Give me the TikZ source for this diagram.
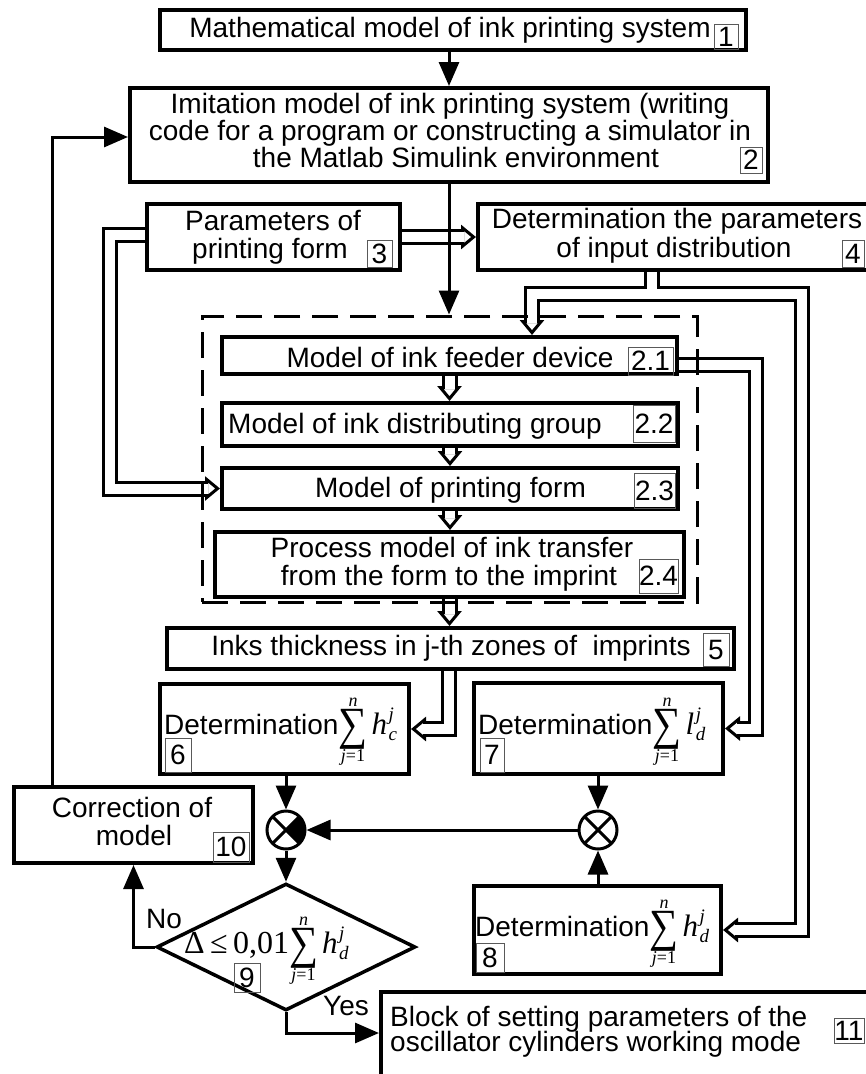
\documentclass[tikz,border=0pt]{standalone}
\usepackage{graphicx}
\usepackage{fontspec}
\setmainfont{Liberation Sans}
\newfontfamily\tim{Liberation Serif}
\usetikzlibrary{arrows.meta,shapes.geometric,backgrounds,calc}

\newcommand\mysum[2]{\mathop{\raisebox{-5.5pt}[26pt][14pt]{\resizebox*{29pt}{40pt}{\tim ∑}}}\limits^{\hbox{\tim\itshape\fontsize{18}{18}\selectfont #1}}_{\hbox{\tim\fontsize{18}{18}\selectfont #2}}}
\newcommand\hv[3]{{\hbox{\tim\itshape\fontsize{31}{31}\selectfont #1\kern1.5pt}}^{\hbox{\tim\itshape\fontsize{19}{19}\selectfont #2}}_{\hbox{\tim\itshape\fontsize{19}{19}\selectfont #3}}}
\newcommand\jone{{\itshape j}=1}

\tikzset{
  box/.style={draw, line width=4pt, fill=white, inner sep=0pt},
  dashbox/.style={draw, line width=3pt, dash pattern=on 26pt off 12pt, inner sep=0pt},
  txt/.style={anchor=base, inner sep=0pt},
  txtw/.style={anchor=base west, inner sep=0pt},
  numb/.style={draw=black!65, line width=1pt, inner sep=0pt},
  arr/.style={line width=3pt, -{Triangle[length=24pt,width=20pt]}},
  dbo/.style={line width=16pt, draw=black, line join=miter, line cap=butt},
  dbi/.style={line width=10pt, draw=white, line join=miter, line cap=butt},
  dbh/.style={line width=3pt, -{Triangle[open,length=15pt,width=24pt]}},
  junc/.style={circle, draw, line width=3pt, minimum size=38pt, inner sep=0pt, fill=white}
}
\newcommand\hollow[3]{%
  \draw[dbo, shorten >=14pt] #1 -- #3;
  \draw[dbh] #2 -- #3;
  \draw[dbi, shorten >=12pt] #1 -- #3;
}

\begin{document}
\begin{tikzpicture}[x=1pt,y=-1pt, every node/.append style={font=\fontsize{28}{28}\selectfont}]
\useasboundingbox (0,0) rectangle (866,1074);

% ---- boxes ----
\node[box, minimum width=586pt, minimum height=40pt] (b1) at (453,30) {};
\node[txt] (t1) at (450,37) {Mathematical model of ink printing system};
\node[numb, minimum width=24pt, minimum height=25pt] (n1) at (726,36.5) {1};

\node[box, minimum width=638pt, minimum height=94pt] (b2) at (449,135) {};
\node[txt] (t2a) at (450,113) {Imitation model of ink printing system (writing};
\node[txt] (t2b) at (450,140) {code for a program or constructing a simulator in};
\node[txt] (t2c) at (456,167) {the Matlab Simulink environment};
\node[numb, minimum width=22pt, minimum height=26pt] (n2) at (751,160) {2};

\node[box, minimum width=253pt, minimum height=66pt] (b3) at (273.5,237) {};
\node[txt] (t3a) at (273,230) {Parameters of};
\node[txt] (t3b) at (270,258) {printing form};
\node[numb, minimum width=25pt, minimum height=27pt] (n3) at (379.5,253.5) {3};

\node[box, minimum width=402pt, minimum height=66pt] (b4) at (679,237) {};
\node[txt] (t4a) at (677,228) {Determination the parameters};
\node[txt] (t4b) at (674,257) {of input distribution};
\node[numb, minimum width=22pt, minimum height=27pt] (n4) at (853,253.5) {4};

\node[dashbox, minimum width=495pt, minimum height=286pt] (dsh) at (449.5,459) {};

\node[box, minimum width=455pt, minimum height=37pt] (b21) at (449.5,355.5) {};
\node[txt] (t21) at (450,367) {Model of ink feeder device};
\node[numb, minimum width=45pt, minimum height=28pt] (n21) at (650.5,361) {2.1};

\node[box, minimum width=456pt, minimum height=43pt] (b22) at (450,424.5) {};
\node[txt] (t22) at (415,433) {Model of ink distributing group};
\node[numb, minimum width=42pt, minimum height=37pt] (n22) at (654,423.5) {2.2};

\node[box, minimum width=456pt, minimum height=41pt] (b23) at (450,488.5) {};
\node[txt] (t23) at (450.5,497) {Model of printing form};
\node[numb, minimum width=41pt, minimum height=35pt] (n23) at (654.5,490.5) {2.3};

\node[box, minimum width=469pt, minimum height=65pt] (b24) at (449.5,564.5) {};
\node[txt] (t24a) at (452,557) {Process model of ink transfer};
\node[txt] (t24b) at (449,585) {from the form to the imprint};
\node[numb, minimum width=39pt, minimum height=34pt] (n24) at (658.5,576) {2.4};

\node[box, minimum width=567pt, minimum height=41pt] (b5) at (450.5,648.5) {};
\node[txt] (t5) at (451,655) {Inks thickness in j-th zones of~ imprints};
\node[numb, minimum width=26pt, minimum height=33pt] (n5) at (716,649.5) {5};

\node[box, minimum width=249pt, minimum height=90pt] (b6) at (284.5,729) {};
\node[txtw] (t6) at (164,734) {Determination$\mysum{n}{\jone}\hv{h}{j}{c}$};
\node[numb, minimum width=26pt, minimum height=34pt] (n6) at (178,755) {6};

\node[box, minimum width=249pt, minimum height=91pt] (b7) at (598.5,728.5) {};
\node[txtw] (t7) at (478,734) {Determination$\mysum{n}{\jone}\hv{l}{j}{d}$};
\node[numb, minimum width=24pt, minimum height=34pt] (n7) at (492,755) {7};

\node[box, minimum width=247pt, minimum height=88pt] (b8) at (597.5,930) {};
\node[txtw] (t8) at (475,936) {Determination$\mysum{n}{\jone}\hv{h}{j}{d}$};
\node[numb, minimum width=28pt, minimum height=29pt] (n8) at (490,957.5) {8};

\node[box, minimum width=239pt, minimum height=76pt] (b10) at (133.5,825) {};
\node[txt] (t10a) at (132,817) {Correction of};
\node[txt] (t10b) at (134,845) {model};
\node[numb, minimum width=36pt, minimum height=30pt] (n10) at (231,847) {10};

\node[diamond, draw, line width=3.5pt, fill=white, minimum width=259pt, minimum height=127pt, inner sep=0pt] (d9) at (286,947) {};
\node[txtw] (t9) at (184,953) {\tim\fontsize{32}{32}\selectfont Δ\,≤\,0,01$\mysum{n}{\jone}\hv{h}{j}{d}$};
\node[numb, minimum width=26pt, minimum height=29pt] (n9) at (247,977.5) {9};

\node[box, minimum width=499pt, minimum height=98pt] (b11) at (630.5,1041) {};
\node[txtw] (t11a) at (390,1026) {Block of setting parameters of the};
\node[txtw] (t11b) at (390,1051) {oscillator cylinders working mode};
\node[numb, minimum width=30pt, minimum height=25pt] (n11) at (849,1030.5) {11};

\node[junc] (s1) at (286,830) {};
\node[junc] (s2) at (598,830) {};
\fill (s1.center) -- +(-45:19pt) arc[start angle=-45, end angle=45, radius=19pt] -- cycle;
\foreach \s in {s1,s2} {
  \draw[line width=3pt] (\s.center) +(45:19pt) -- +(225:19pt);
  \draw[line width=3pt] (\s.center) +(135:19pt) -- +(315:19pt);
}

\node[txtw] (lno) at (146,928) {No};
\node[txtw] (lyes) at (323,1015) {Yes};

% ---- hollow (double-line) connectors ----
\begin{pgfonlayer}{background}
\hollow{(b3.east)}{(b3.east)}{(b4.west)}
\coordinate (lx) at (110,0);
\coordinate (p3) at ($(b3.west)+(0,-2.5)$);
\hollow{(p3) -- (p3 -| lx) -- (b23.west -| lx)}{(b23.west -| lx)}{(b23.west)}
\coordinate (rx) at (756,0);
\coordinate (p21) at ($(b21.east)+(0,9)$);
\hollow{(p21) -- (p21 -| rx) -- (b7.east -| rx)}{(b7.east -| rx)}{(b7.east)}
\coordinate (cx) at (449,0);
\hollow{(b5.south -| cx) -- (b6.east -| cx)}{(b6.east -| cx)}{(b6.east)}
\hollow{(b21.south)}{(b21.south)}{(b21.south |- b22.north)}
\hollow{(b22.south)}{(b22.south)}{(b22.south |- b23.north)}
\hollow{(b23.south)}{(b23.south)}{(b23.south |- b24.north)}
\hollow{(b24.south)}{(b24.south)}{(b24.south |- b5.north)}
% branching from block 4
\coordinate (j4) at (652,293.5);
\coordinate (lb) at (532,0);
\coordinate (rb) at (802,0);
\draw[dbo, shorten >=14pt] (b4.south -| j4) -- (j4) -- (j4 -| lb) -- (b21.north -| lb);
\draw[dbo, shorten >=14pt] (b4.south -| j4) -- (j4) -- (j4 -| rb) -- (b8.east -| rb) -- (b8.east);
\draw[dbh] (j4 -| lb) -- (b21.north -| lb);
\draw[dbh] (b8.east -| rb) -- (b8.east);
\draw[dbi, shorten >=12pt] (b4.south -| j4) -- (j4) -- (j4 -| lb) -- (b21.north -| lb);
\draw[dbi, shorten >=12pt] (b4.south -| j4) -- (j4) -- (j4 -| rb) -- (b8.east -| rb) -- (b8.east);
\end{pgfonlayer}

% ---- single connectors ----
\draw[arr] (b2.north |- b1.south) -- (b2.north);
\draw[arr] (b2.south) -- (b2.south |- dsh.north);
\coordinate (fb) at (52,137);
\draw[arr] (b10.north -| fb) -- (fb) -- (b2.west |- fb);
\draw[arr] (s1.north |- b6.south) -- (s1.north);
\draw[arr] (s2.north |- b7.south) -- (s2.north);
\draw[arr] (b8.north -| s2) -- (s2.south);
\draw[arr] (s2.west) -- (s1.east);
\draw[arr] (s1.south) -- (d9.north);
\draw[arr] (d9.west) -- (d9.west -| b10.south) -- (b10.south);
\coordinate (yy) at (286,1033);
\draw[arr] (d9.south) -- (yy) -- (b11.west |- yy);
\end{tikzpicture}
\end{document}
